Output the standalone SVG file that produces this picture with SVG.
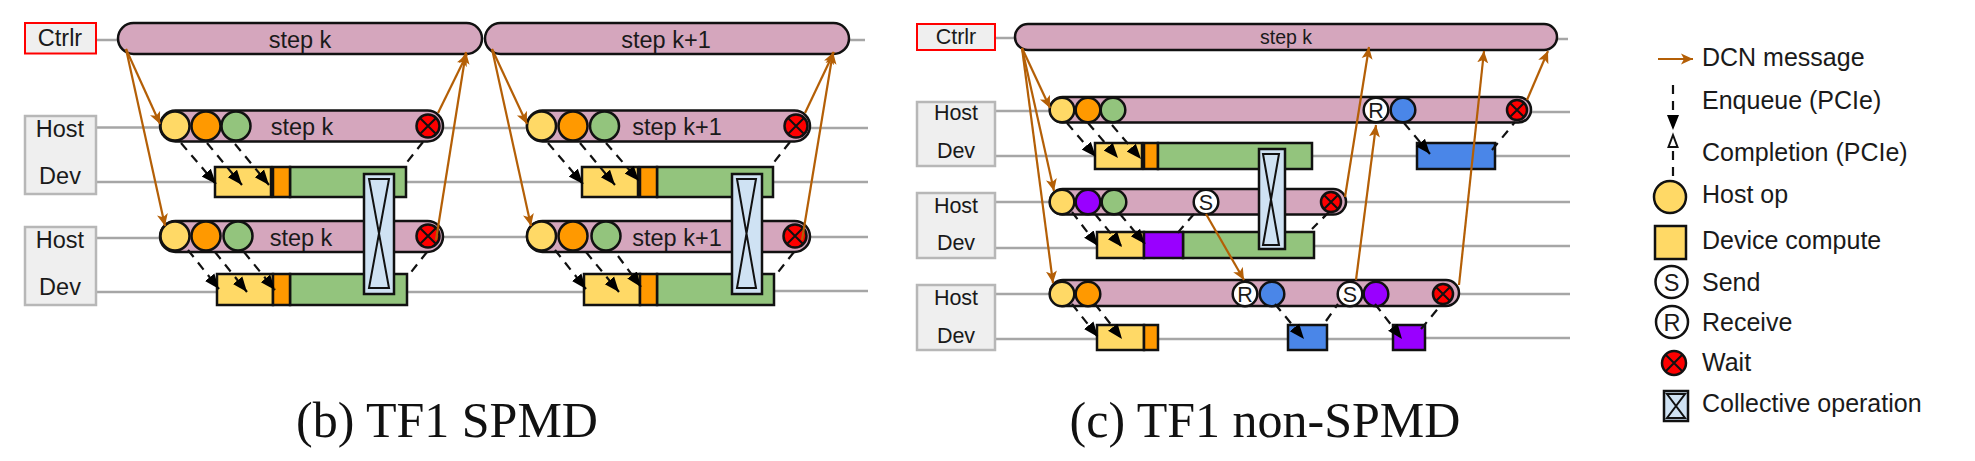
<svg xmlns="http://www.w3.org/2000/svg" width="1975" height="461" viewBox="0 0 1975 461">
<style>
text{font-family:"Liberation Sans",Arial,sans-serif;fill:#1a1a1a;text-anchor:middle}
.ll{stroke:#a6a6a6;stroke-width:2.5;fill:none}
.box{fill:#efefef;stroke:#b7b7b7;stroke-width:2.5}
.ctl{fill:#efefef;stroke:#ff0000;stroke-width:2}
.pill{fill:#d5a6bd;stroke:#111;stroke-width:2.5}
.y{fill:#ffd966;stroke:#111;stroke-width:2.5}
.o{fill:#ff9900;stroke:#111;stroke-width:2.5}
.g{fill:#93c47d;stroke:#111;stroke-width:2.5}
.b{fill:#4a86e8;stroke:#111;stroke-width:2.5}
.p{fill:#9900ff;stroke:#111;stroke-width:2.5}
.w{fill:#fff;stroke:#111;stroke-width:2.5}
.r{fill:#ff0000;stroke:#111;stroke-width:2.5}
.x{stroke:#111;stroke-width:2;fill:none}
.c{fill:#cfe2f3;stroke:#111;stroke-width:2.5}
.ci{fill:none;stroke:#111;stroke-width:2}
.m{stroke:#b45f06;stroke-width:2.2;fill:none;marker-end:url(#oa)}
.e{stroke:#111;stroke-width:2.2;stroke-dasharray:9 7;fill:none;marker-end:url(#ba)}
.d{stroke:#111;stroke-width:2.2;stroke-dasharray:9 7;fill:none}
.t23{font-size:23.500px}.t21{font-size:21.500px}.t19{font-size:19.500px}
.leg{font-size:25px;text-anchor:start}
.cap{font-family:"Liberation Serif","Times New Roman",serif;font-size:50px;fill:#111}
</style>
<defs>
<marker id="oa" markerUnits="userSpaceOnUse" markerWidth="16" markerHeight="14" refX="12" refY="6" orient="auto"><path d="M0 0.500L12 6L0 11.500L3 6Z" fill="#b45f06"/></marker>
<marker id="ba" markerUnits="userSpaceOnUse" markerWidth="18" markerHeight="16" refX="15" refY="7" orient="auto"><path d="M0 1L15 7L0 13Z" fill="#000"/></marker>
</defs>

<g id="lifelines" class="lifelines">
<path class="ll" d="M96 40H118M849 40H865M96 127.500H160M443 128H527M810 128H868M96 182H215M406 182H582M773 182H868M96 238H160M443 237H527M810 237H868M96 292H217M407 292H584M774 291H868"/>
<path class="ll" d="M995 38H1015M1557 39H1568M995 111H1050M1531 112H1570M995 156H1095M1312 156H1417M1495 156H1570M995 202H1050M1346 202H1570M995 248H1097M1314 246H1570M995 294H1050M1459 294H1570M995 339H1097M1158 339H1288M1327 339H1393M1425 338H1570"/>
</g>

<g id="b-labels">
<g id="b-ctrl"><rect class="ctl" x="25" y="23" width="71" height="30.500"/><text class="t23" x="60" y="46">Ctrlr</text></g>
<g id="b-box1"><rect class="box" x="25" y="116" width="71" height="78"/><text class="t23" x="60" y="137">Host</text><text class="t23" x="60" y="184">Dev</text></g>
<g id="b-box2"><rect class="box" x="25" y="227" width="71" height="78"/><text class="t23" x="60" y="248">Host</text><text class="t23" x="60" y="295">Dev</text></g>
</g>
<g id="b-step-k"><rect class="pill" x="118" y="23" width="364" height="31" rx="15.500"/><text class="t23" x="300" y="48">step k</text></g>
<g id="b-step-k1"><rect class="pill" x="485" y="23" width="364" height="31" rx="15.500"/><text class="t23" x="666" y="48">step k+1</text></g>

<g id="b-host1-k"><rect class="pill" x="160" y="110.500" width="283" height="31" rx="15.500"/><text class="t23" x="302" y="135">step k</text>
<circle class="y" cx="175" cy="126" r="14.500"/><circle class="o" cx="206" cy="126" r="14.500"/><circle class="g" cx="236" cy="126" r="14.500"/>
<circle class="r" cx="428" cy="126" r="11.500"/><path class="x" d="M420 118L436 134M436 118L420 134"/></g>
<g id="b-dev1-k"><rect class="y" x="215" y="167" width="56" height="30"/><rect class="g" x="290" y="167" width="116" height="30"/><rect class="o" x="273" y="167" width="17" height="30"/></g>
<g id="b-host2-k"><rect class="pill" x="160" y="221" width="283" height="31" rx="15.500"/><text class="t23" x="301" y="246">step k</text>
<circle class="y" cx="175" cy="236" r="14.500"/><circle class="o" cx="206" cy="236" r="14.500"/><circle class="g" cx="238" cy="236" r="14.500"/>
<circle class="r" cx="428" cy="236" r="11.500"/><path class="x" d="M420 228L436 244M436 228L420 244"/></g>
<g id="b-dev2-k"><rect class="y" x="217" y="274" width="56" height="31"/><rect class="g" x="290" y="274" width="117" height="31"/><rect class="o" x="273" y="274" width="17" height="31"/></g>
<g id="b-coll-k"><rect class="c" x="364" y="174" width="30" height="120"/><path class="ci" d="M369 179H389L369 288H389Z"/></g>

<g id="b-host1-k1"><rect class="pill" x="527" y="110.500" width="283" height="31" rx="15.500"/><text class="t23" x="677" y="135">step k+1</text>
<circle class="y" cx="541.500" cy="126" r="14.500"/><circle class="o" cx="573" cy="126" r="14.500"/><circle class="g" cx="604.500" cy="126" r="14.500"/>
<circle class="r" cx="796" cy="126" r="11.500"/><path class="x" d="M788 118L804 134M804 118L788 134"/></g>
<g id="b-dev1-k1"><rect class="y" x="582" y="167" width="56" height="30"/><rect class="g" x="657" y="167" width="116" height="30"/><rect class="o" x="640" y="167" width="17" height="30"/></g>
<g id="b-host2-k1"><rect class="pill" x="527" y="221" width="283" height="31" rx="15.500"/><text class="t23" x="677" y="246">step k+1</text>
<circle class="y" cx="541.500" cy="236" r="14.500"/><circle class="o" cx="573" cy="236" r="14.500"/><circle class="g" cx="606" cy="236" r="14.500"/>
<circle class="r" cx="795" cy="236" r="11.500"/><path class="x" d="M787 228L803 244M803 228L787 244"/></g>
<g id="b-dev2-k1"><rect class="y" x="584" y="274" width="56" height="31"/><rect class="g" x="657" y="274" width="117" height="31"/><rect class="o" x="640" y="274" width="17" height="31"/></g>
<g id="b-coll-k1"><rect class="c" x="732" y="174" width="30" height="120"/><path class="ci" d="M737 179H756L737 288H756Z"/></g>

<g id="c-ctrl"><rect class="ctl" x="917" y="24" width="78" height="26"/><text class="t21" x="956" y="44">Ctrlr</text></g>
<g id="c-box1"><rect class="box" x="917" y="102" width="78" height="64"/><text class="t21" x="956" y="120">Host</text><text class="t21" x="956" y="158">Dev</text></g>
<g id="c-box2"><rect class="box" x="917" y="193" width="78" height="65"/><text class="t21" x="956" y="213">Host</text><text class="t21" x="956" y="250">Dev</text></g>
<g id="c-box3"><rect class="box" x="917" y="285" width="78" height="65"/><text class="t21" x="956" y="305">Host</text><text class="t21" x="956" y="343">Dev</text></g>
<g id="c-step-k"><rect class="pill" x="1015" y="24" width="542" height="26" rx="13"/><text class="t19" x="1286" y="44">step k</text></g>

<g id="c-host1"><rect class="pill" x="1050" y="97" width="481" height="25.500" rx="12.700"/>
<circle class="y" cx="1062" cy="110" r="12.300"/><circle class="o" cx="1088" cy="110" r="12.300"/><circle class="g" cx="1113" cy="110" r="12.300"/>
<circle class="w" cx="1376" cy="110" r="12.300"/><text class="t21" x="1376" y="118">R</text><circle class="b" cx="1403" cy="110" r="12.300"/>
<circle class="r" cx="1517" cy="110" r="10"/><path class="x" d="M1510 103L1524 117M1524 103L1510 117"/></g>
<g id="c-dev1"><rect class="y" x="1095" y="143" width="47" height="26"/><rect class="o" x="1144" y="143" width="14" height="26"/><rect class="g" x="1158" y="143" width="154" height="26"/><rect class="b" x="1417" y="143" width="78" height="26"/></g>
<g id="c-host2"><rect class="pill" x="1050" y="189" width="296" height="25.500" rx="12.700"/>
<circle class="y" cx="1062" cy="202" r="12.300"/><circle class="p" cx="1088" cy="202" r="12.300"/><circle class="g" cx="1114" cy="202" r="12.300"/>
<circle class="w" cx="1206" cy="202" r="12.300"/><text class="t21" x="1206" y="210">S</text>
<circle class="r" cx="1331" cy="202" r="10"/><path class="x" d="M1324 195L1338 209M1338 195L1324 209"/></g>
<g id="c-dev2"><rect class="y" x="1097" y="232" width="47" height="26"/><rect class="g" x="1183" y="232" width="131" height="26"/><rect class="p" x="1144" y="232" width="39" height="26"/></g>
<g id="c-coll"><rect class="c" x="1259" y="149" width="26" height="100"/><path class="ci" d="M1263 154H1279L1263 245H1279Z"/></g>
<g id="c-host3"><rect class="pill" x="1050" y="280" width="409" height="26" rx="13"/>
<circle class="y" cx="1062" cy="294" r="12.300"/><circle class="o" cx="1088" cy="294" r="12.300"/>
<circle class="w" cx="1245" cy="294" r="12.300"/><text class="t21" x="1245" y="302">R</text><circle class="b" cx="1272" cy="294" r="12.300"/>
<circle class="w" cx="1350" cy="294" r="12.300"/><text class="t21" x="1350" y="302">S</text><circle class="p" cx="1376" cy="294" r="12.300"/>
<circle class="r" cx="1443" cy="294" r="10"/><path class="x" d="M1436 287L1450 301M1450 287L1436 301"/></g>
<g id="c-dev3"><rect class="y" x="1097" y="325" width="47" height="25"/><rect class="o" x="1144" y="325" width="14" height="25"/><rect class="b" x="1288" y="325" width="39" height="25"/><rect class="p" x="1393" y="325" width="32" height="25"/></g>

<g id="connectors">
<path class="e" d="M181 143L216 184"/><path class="e" d="M207 143L242 185"/><path class="e" d="M235 144L269 185"/><path class="e" d="M188 250L219 289"/><path class="e" d="M215 252L247 292"/><path class="e" d="M244 252L275 290"/>
<path class="e" d="M548 143L583 184"/><path class="e" d="M580 143L615 185"/><path class="e" d="M606 143L639 181"/><path class="e" d="M555 250L586 289"/><path class="e" d="M586 252L619 292"/><path class="e" d="M618 256L641 287"/>
<path class="d" d="M423 142L404 166M427 252L408 276M790 142L771 166M794 252L775 276"/>
<path class="m" d="M126 49L160 124"/><path class="m" d="M126 49L165 226"/><path class="m" d="M438 113L467 54"/><path class="m" d="M436 240L466 52"/>
<path class="m" d="M492 49L527 124"/><path class="m" d="M492 49L531 226"/><path class="m" d="M805 113L834 52"/><path class="m" d="M802 240L833 52"/>
<path class="e" d="M1067 123L1096 157"/><path class="e" d="M1088 123L1118 158"/><path class="e" d="M1112 125L1141 159"/><path class="e" d="M1072 212L1098 246"/><path class="e" d="M1095 214L1122 247"/><path class="e" d="M1120 214L1145 244"/><path class="e" d="M1404 123L1430 154"/><path class="e" d="M1275 304L1304 339"/><path class="e" d="M1072 304L1098 337"/><path class="e" d="M1095 304L1122 339"/><path class="e" d="M1375 304L1402 339"/>
<path class="d" d="M1194 214L1174 237M1329 212L1312 229M1492 150L1515 122M1326 321L1338 304M1421 329L1441 305"/>
<path class="m" d="M1022 48L1050 108"/><path class="m" d="M1022 48L1054 191"/><path class="m" d="M1022 48L1053 283"/>
<path class="m" d="M1345 197L1369 47"/><path class="m" d="M1356 280L1376 125"/><path class="m" d="M1459 285L1484 51"/><path class="m" d="M1527 100L1548 51"/><path class="m" d="M1206 214L1244 280"/>
<path class="m" d="M1658 59L1693 59"/>
<path class="e" d="M1673 85L1673 130"/>
<path class="d" d="M1673 176L1673 146"/><path d="M1673 135L1677.500 147H1668.500Z" fill="#fff" stroke="#111" stroke-width="2"/>
</g>

<g id="legend">
<text class="leg" x="1702" y="66">DCN message</text>
<text class="leg" x="1702" y="109">Enqueue (PCIe)</text>
<text class="leg" x="1702" y="161">Completion (PCIe)</text>
<g id="leg-host"><circle class="y" cx="1670" cy="197" r="16"/><text class="leg" x="1702" y="203">Host op</text></g>
<g id="leg-dev"><rect class="y" x="1655" y="226" width="31" height="33"/><text class="leg" x="1702" y="249">Device compute</text></g>
<g id="leg-send"><circle class="w" cx="1671.500" cy="282" r="16"/><text class="t23" x="1671.500" y="291">S</text><text class="leg" x="1702" y="291">Send</text></g>
<g id="leg-recv"><circle class="w" cx="1672" cy="322" r="16"/><text class="t23" x="1672" y="331">R</text><text class="leg" x="1702" y="331">Receive</text></g>
<g id="leg-wait"><circle class="r" cx="1674" cy="363" r="12"/><path class="x" d="M1666 355L1682 371M1682 355L1666 371"/><text class="leg" x="1702" y="371">Wait</text></g>
<g id="leg-coll"><rect class="c" x="1664" y="391" width="24" height="30"/><path class="ci" d="M1667 394H1685L1667 418H1685Z"/><text class="leg" x="1702" y="412">Collective operation</text></g>
</g>

<text class="cap" x="447" y="437">(b) TF1 SPMD</text>
<text class="cap" x="1265" y="437">(c) TF1 non-SPMD</text>
</svg>
